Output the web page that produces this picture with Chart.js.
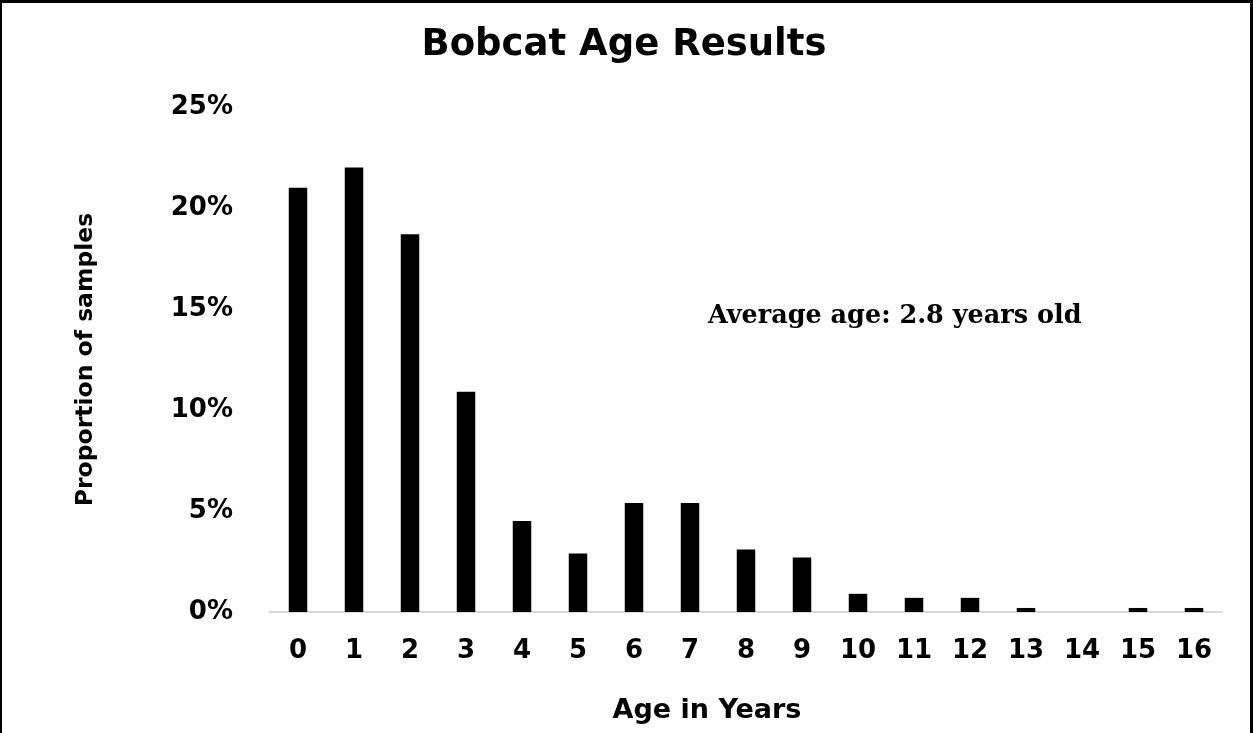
<!DOCTYPE html>
<html>
<head>
<meta charset="utf-8">
<script src="https://cdn.jsdelivr.net/npm/chart.js@4/dist/chart.umd.min.js"></script>
<style>
  html, body { margin: 0; padding: 0; background: #ffffff; }
  #wrap { width: 1253px; height: 733px; position: relative; }
  canvas { display: block; }
</style>
</head>
<body>
<div id="wrap"><canvas id="c" width="1253" height="733"></canvas></div>
<script>
// ---- data ----
const ages = ['0','1','2','3','4','5','6','7','8','9','10','11','12','13','14','15','16'];
const proportions = [21.0, 22.0, 18.7, 10.9, 4.5, 2.9, 5.4, 5.4, 3.1, 2.7, 0.9, 0.7, 0.7, 0.2, 0, 0.2, 0.2];
const chartTitle = 'Bobcat Age Results';
const xTitle = 'Age in Years';
const yTitle = 'Proportion of samples';
const note = 'Average age: 2.8 years old';
const yMin = 0, yMax = 25, yStep = 5;

const SANS = '"DejaVu Sans", sans-serif';
const SERIF = '"DejaVu Serif", serif';

const extras = {
  id: 'extras',
  afterDraw(chart) {
    const ctx = chart.ctx;
    const area = chart.chartArea;
    ctx.save();
    // x axis title
    ctx.fillStyle = '#000';
    ctx.font = 'bold 27px ' + SANS;
    ctx.textAlign = 'center';
    ctx.textBaseline = 'middle';
    ctx.fillText(xTitle, area.left + (area.right - area.left) * 0.459, 711);
    // annotation
    ctx.font = 'bold 25.5px ' + SERIF;
    ctx.textAlign = 'left';
    ctx.textBaseline = 'alphabetic';
    const xs = chart.scales.x;
    ctx.fillText(note, xs.getPixelForValue(7.32), 323);
    // frame
    ctx.fillRect(0, 0, chart.width, 3);
    ctx.fillRect(0, 0, 2, chart.height);
    ctx.fillRect(chart.width - 3, 0, 3, chart.height);
    ctx.restore();
  }
};

new Chart(document.getElementById('c'), {
  type: 'bar',
  data: {
    labels: ages,
    datasets: [{
      data: proportions,
      backgroundColor: '#000000',
      borderWidth: 0,
      categoryPercentage: 1.0,
      barPercentage: 0.33
    }]
  },
  options: {
    responsive: false,
    animation: false,
    devicePixelRatio: 1,
    layout: { padding: { left: 26, right: 31, top: 0, bottom: 0 } },
    plugins: {
      legend: { display: false },
      tooltip: { enabled: false },
      title: {
        display: true,
        text: chartTitle,
        color: '#000',
        font: { family: SANS, size: 37, weight: 'bold', lineHeight: 1.2 },
        padding: { top: 23, bottom: 39.6 }
      }
    },
    scales: {
      x: {
        grid: { display: false, drawTicks: false },
        border: { display: true, color: '#d9d9d9', width: 2 },
        ticks: {
          color: '#000',
          font: { family: SANS, size: 26, weight: 'bold' },
          padding: 24,
          maxRotation: 0,
          autoSkip: false
        },
        afterFit(scale) { scale.height = 121; }
      },
      y: {
        min: yMin,
        max: yMax,
        grid: { display: false, drawTicks: false },
        border: { display: false },
        ticks: {
          stepSize: yStep,
          color: '#000',
          font: { family: SANS, size: 26, weight: 'bold' },
          padding: 37,
          callback: v => v + '%'
        },
        title: {
          display: true,
          text: yTitle,
          color: '#000',
          font: { family: SANS, size: 23.5, weight: 'bold', lineHeight: 1.2 },
          padding: { top: 46, bottom: 0 }
        },
        afterFit(scale) { scale.width = 244; }
      }
    }
  },
  plugins: [extras]
});
</script>
</body>
</html>
